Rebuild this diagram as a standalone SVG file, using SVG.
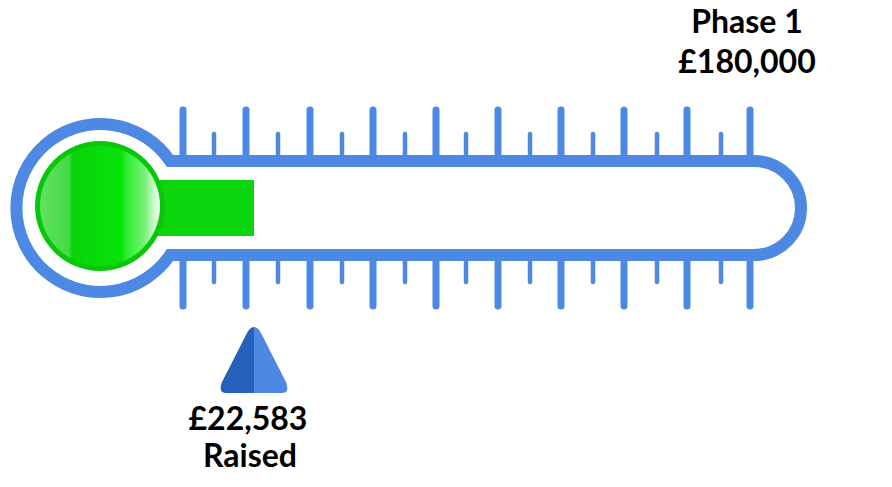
<svg xmlns="http://www.w3.org/2000/svg" width="892" height="487" viewBox="0 0 892 487">
<style>
.tube{fill:none;stroke:#4d88e2;stroke-width:12}
.maj{stroke:#4d88e2;stroke-width:7;stroke-linecap:round}
.min{stroke:#4d88e2;stroke-width:4.5;stroke-linecap:round}
.lbl{font-family:Lato,"Liberation Sans",sans-serif;font-weight:bold;font-size:32px;fill:#000;text-anchor:middle}
</style>
<defs>
<linearGradient id="gloss" x1="40" y1="0" x2="160" y2="0" gradientUnits="userSpaceOnUse">
<stop offset="0" stop-color="#62e262"/>
<stop offset="0.24" stop-color="#45da45"/>
<stop offset="0.27" stop-color="#07d40a"/>
<stop offset="0.68" stop-color="#07e30a"/>
<stop offset="0.72" stop-color="#2bec2d"/>
<stop offset="0.88" stop-color="#7ef27e"/>
<stop offset="1" stop-color="#ffffff"/>
</linearGradient>
</defs>
<g id="thermometer">
<path class="tube" d="M170,161 L754,161 A47,47 0 0 1 754,255 L170,255 A84,84 0 1 1 170,161 Z"/>
</g>
<g id="ticks">
<line class="maj" x1="183" y1="110" x2="183" y2="158"/><line class="maj" x1="183" y1="258" x2="183" y2="306"/>
<line class="maj" x1="246" y1="110" x2="246" y2="158"/><line class="maj" x1="246" y1="258" x2="246" y2="306"/>
<line class="maj" x1="310" y1="110" x2="310" y2="158"/><line class="maj" x1="310" y1="258" x2="310" y2="306"/>
<line class="maj" x1="373" y1="110" x2="373" y2="158"/><line class="maj" x1="373" y1="258" x2="373" y2="306"/>
<line class="maj" x1="436" y1="110" x2="436" y2="158"/><line class="maj" x1="436" y1="258" x2="436" y2="306"/>
<line class="maj" x1="498" y1="110" x2="498" y2="158"/><line class="maj" x1="498" y1="258" x2="498" y2="306"/>
<line class="maj" x1="561" y1="110" x2="561" y2="158"/><line class="maj" x1="561" y1="258" x2="561" y2="306"/>
<line class="maj" x1="624" y1="110" x2="624" y2="158"/><line class="maj" x1="624" y1="258" x2="624" y2="306"/>
<line class="maj" x1="687" y1="110" x2="687" y2="158"/><line class="maj" x1="687" y1="258" x2="687" y2="306"/>
<line class="maj" x1="750" y1="110" x2="750" y2="158"/><line class="maj" x1="750" y1="258" x2="750" y2="306"/>
<line class="min" x1="214" y1="134" x2="214" y2="158"/><line class="min" x1="214" y1="258" x2="214" y2="282"/>
<line class="min" x1="278" y1="134" x2="278" y2="158"/><line class="min" x1="278" y1="258" x2="278" y2="282"/>
<line class="min" x1="342" y1="134" x2="342" y2="158"/><line class="min" x1="342" y1="258" x2="342" y2="282"/>
<line class="min" x1="405" y1="134" x2="405" y2="158"/><line class="min" x1="405" y1="258" x2="405" y2="282"/>
<line class="min" x1="466" y1="134" x2="466" y2="158"/><line class="min" x1="466" y1="258" x2="466" y2="282"/>
<line class="min" x1="530" y1="134" x2="530" y2="158"/><line class="min" x1="530" y1="258" x2="530" y2="282"/>
<line class="min" x1="593" y1="134" x2="593" y2="158"/><line class="min" x1="593" y1="258" x2="593" y2="282"/>
<line class="min" x1="657" y1="134" x2="657" y2="158"/><line class="min" x1="657" y1="258" x2="657" y2="282"/>
<line class="min" x1="721" y1="134" x2="721" y2="158"/><line class="min" x1="721" y1="258" x2="721" y2="282"/>
</g>
<g id="mercury">
<rect x="150" y="180" width="104" height="56" fill="#0ad50d"/>
<circle cx="100" cy="206" r="65" fill="#08c70b"/>
<circle cx="100" cy="206" r="60" fill="url(#gloss)"/>
</g>
<g id="marker">
<path d="M254,327 Q258,327 261,333 L286,382 Q290,393 282,393 L254,393 Z" fill="#4d88e2"/>
<path d="M254,327 Q250,327 247,333 L222,382 Q218,393 226,393 L254,393 Z" fill="#2560bd"/>
</g>
<g id="labels">
<text class="lbl" x="747" y="33">Phase 1</text>
<text class="lbl" x="747" y="73">£180,000</text>
<text class="lbl" x="248" y="430">£22,583</text>
<text class="lbl" x="250" y="467">Raised</text>
</g>
</svg>
